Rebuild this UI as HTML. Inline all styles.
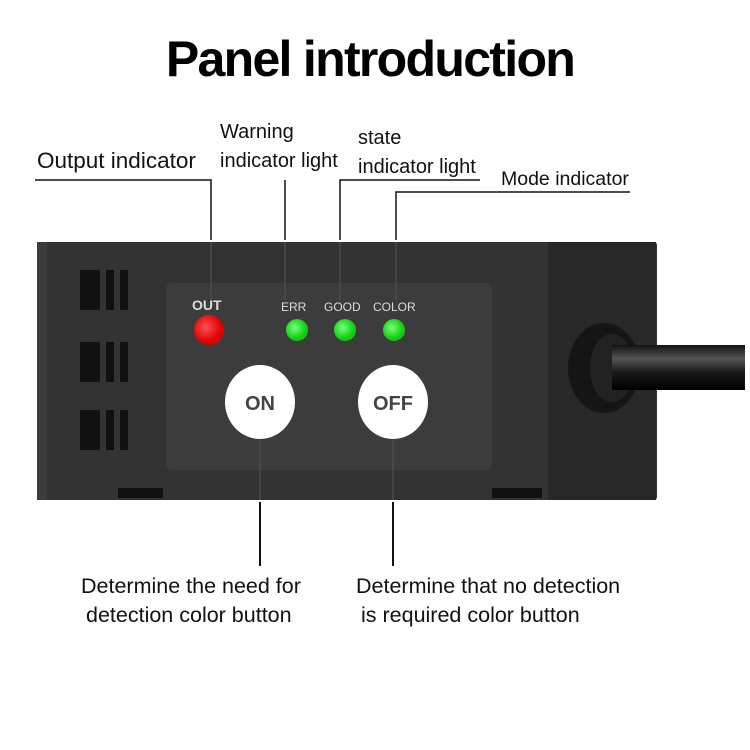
<!DOCTYPE html>
<html><head><style>
body{margin:0;width:750px;height:750px;background:#fff;overflow:hidden;font-family:"Liberation Sans",sans-serif;position:relative}
.t{position:absolute;color:#111;font-size:21.5px;white-space:nowrap}
</style></head><body>
<div style="position:absolute;left:0;top:30px;width:740px;text-align:center;font-size:50px;font-weight:bold;letter-spacing:-1.7px;color:#000">Panel introduction</div>

<svg width="750" height="750" style="position:absolute;left:0;top:0">
<defs>
<linearGradient id="cab" x1="0" y1="0" x2="0" y2="1"><stop offset="0" stop-color="#111"/><stop offset=".3" stop-color="#555"/><stop offset=".6" stop-color="#1a1a1a"/><stop offset="1" stop-color="#000"/></linearGradient>
<radialGradient id="r" cx=".4" cy=".4"><stop offset="0" stop-color="#ff5050"/><stop offset="1" stop-color="#d00"/></radialGradient>
<radialGradient id="g" cx=".4" cy=".4"><stop offset="0" stop-color="#7f7"/><stop offset="1" stop-color="#1c1"/></radialGradient>
</defs>
<rect x="585" y="345" width="160" height="45" fill="url(#cab)"/>
<rect x="37" y="242" width="620" height="258" rx="3" fill="#333"/>
<rect x="37" y="242" width="10" height="258" fill="#3c3c3c"/>
<rect x="548" y="242" width="108" height="258" fill="#282828"/>
<rect x="166" y="283" width="326" height="187" rx="6" fill="#3c3c3c"/>
<g fill="#111">
<rect x="80" y="270" width="20" height="40"/><rect x="106" y="270" width="8" height="40"/><rect x="120" y="270" width="8" height="40"/>
<rect x="80" y="342" width="20" height="40"/><rect x="106" y="342" width="8" height="40"/><rect x="120" y="342" width="8" height="40"/>
<rect x="80" y="410" width="20" height="40"/><rect x="106" y="410" width="8" height="40"/><rect x="120" y="410" width="8" height="40"/>
<rect x="118" y="488" width="45" height="10"/><rect x="492" y="488" width="50" height="10"/>
</g>
<ellipse cx="604" cy="368" rx="36" ry="45" fill="#151515"/>
<ellipse cx="612" cy="368" rx="22" ry="34" fill="#222"/>
<rect x="612" y="345" width="133" height="45" fill="url(#cab)"/>
<text x="192" y="310" font-size="14" fill="#ddd" font-family="Liberation Sans" font-weight="bold">OUT</text>
<text x="281" y="311" font-size="12" fill="#ddd" font-family="Liberation Sans">ERR</text>
<text x="324" y="311" font-size="12" fill="#ddd" font-family="Liberation Sans">GOOD</text>
<text x="373" y="311" font-size="12" fill="#ddd" font-family="Liberation Sans">COLOR</text>
<ellipse cx="209" cy="330" rx="15" ry="15" fill="url(#r)"/>
<circle cx="297" cy="330" r="11" fill="url(#g)"/>
<circle cx="345" cy="330" r="11" fill="url(#g)"/>
<circle cx="394" cy="330" r="11" fill="url(#g)"/>
<ellipse cx="260" cy="402" rx="35" ry="37" fill="#fff"/>
<ellipse cx="393" cy="402" rx="35" ry="37" fill="#fff"/>
<text x="260" y="410" font-size="20" font-weight="bold" fill="#444" text-anchor="middle" font-family="Liberation Sans">ON</text>
<text x="393" y="410" font-size="20" font-weight="bold" fill="#444" text-anchor="middle" font-family="Liberation Sans">OFF</text>
<g stroke="#111" stroke-width="1.5" fill="none">
<polyline points="35,180 211,180 211,240"/>
<polyline points="285,180 285,240"/>
<polyline points="480,180 340,180 340,240"/>
<polyline points="630,192 396,192 396,240"/>
</g>
<g stroke="#555" stroke-width="1" fill="none">
<line x1="211" y1="242" x2="211" y2="300"/><line x1="285" y1="242" x2="285" y2="300"/><line x1="340" y1="242" x2="340" y2="300"/><line x1="396" y1="242" x2="396" y2="300"/>
<line x1="260" y1="440" x2="260" y2="500"/><line x1="393" y1="440" x2="393" y2="500"/>
</g>
<g stroke="#111" stroke-width="2">
<line x1="260" y1="502" x2="260" y2="566"/><line x1="393" y1="502" x2="393" y2="566"/>
</g>
</svg>

<div class="t" style="left:37px;top:148px;font-size:22.5px">Output indicator</div>
<div class="t" style="left:220px;top:121px;font-size:20px">Warning</div>
<div class="t" style="left:220px;top:150px;font-size:20px">indicator light</div>
<div class="t" style="left:358px;top:127px;font-size:20px">state</div>
<div class="t" style="left:358px;top:156px;font-size:20px">indicator light</div>
<div class="t" style="left:501px;top:168px;font-size:19.5px">Mode indicator</div>
<div class="t" style="left:81px;top:574px">Determine the need for</div>
<div class="t" style="left:86px;top:603px">detection color button</div>
<div class="t" style="left:356px;top:574px">Determine that no detection</div>
<div class="t" style="left:361px;top:603px">is required color button</div>
</body></html>
